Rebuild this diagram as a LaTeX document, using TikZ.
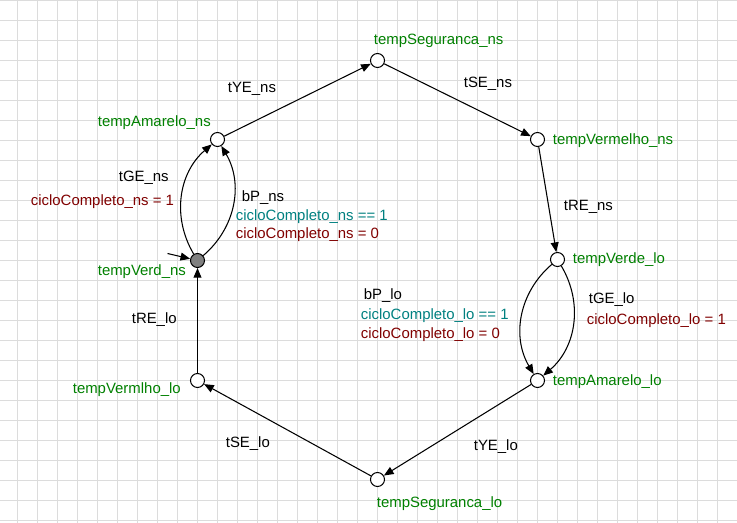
\documentclass[tikz,border=0pt]{standalone}
\usepackage{fontspec}
\setmainfont{Liberation Sans}
\usetikzlibrary{arrows.meta}

\definecolor{locgreen}{RGB}{0,128,0}
\definecolor{guardteal}{RGB}{0,128,128}
\definecolor{updred}{RGB}{128,0,0}
\definecolor{gridgray}{RGB}{220,220,220}

\tikzset{
	state/.style={circle, draw, fill=white, minimum size=0.28cm, inner sep=0pt, line width=0.6pt},
	initstate/.style={state, fill=gray},
	trans/.style={line width=0.6pt, -{Triangle[length=5.5pt,width=4.5pt]}},
	txt/.style={anchor=west, inner sep=0pt, font=\fontsize{8.5pt}{10pt}\selectfont},
	loc/.style={txt, text=locgreen},
	guard/.style={txt, text=guardteal},
	upd/.style={txt, text=updred},
	gridline/.style={draw=gridgray, line width=0.55pt}
}

\begin{document}
\begin{tikzpicture}[x=0.02cm, y=-0.02cm]
			\useasboundingbox (-0.5, -0.5) rectangle (736.5, 522.5);
			% background grid
			\foreach \x in {17, 37, ..., 737} \draw[gridline] (\x, -0.5) -- (\x, 522.5);
			\foreach \y in {0, 20, ..., 520} \draw[gridline] (-0.5, \y) -- (736.5, \y);

			% locations
			\node[state] (segns) at (377, 60) {};
			\node[state] (vermns) at (537, 139) {};
			\node[state] (verdelo) at (557, 259) {};
			\node[state] (amarlo) at (537, 380) {};
			\node[state] (seglo) at (377, 479) {};
			\node[state] (vermlo) at (197, 380) {};
			\node[initstate] (verdns) at (197, 260) {};
			\node[state] (amarns) at (217, 139) {};
			\coordinate (start) at (167, 253);

			\node[loc] (segnslbl) at (373, 40) {tempSeguranca\_ns};
			\node[loc] (vermnslbl) at (552, 140) {tempVermelho\_ns};
			\node[loc] (verdelolbl) at (572, 259) {tempVerde\_lo};
			\node[loc] (amarlolbl) at (552, 381) {tempAmarelo\_lo};
			\node[loc] (seglolbl) at (376, 503) {tempSeguranca\_lo};
			\node[loc] (vermlolbl) at (72, 389) {tempVermlho\_lo};
			\node[loc] (verdnslbl) at (97, 271) {tempVerd\_ns};
			\node[loc] (amarnslbl) at (97, 122) {tempAmarelo\_ns};

			% transitions
			\draw[trans] (start) -- (verdns);
			\draw[trans] (amarns) -- (segns);
			\draw[trans] (segns) -- (vermns);
			\draw[trans] (vermns) -- (verdelo);
			\draw[trans] (verdelo) to[bend left=40] (amarlo);
			\draw[trans] (verdelo) to[bend right=40] (amarlo);
			\draw[trans] (amarlo) -- (seglo);
			\draw[trans] (seglo) -- (vermlo);
			\draw[trans] (vermlo) -- (verdns);
			\draw[trans] (verdns) to[bend right=40] (amarns);
			\draw[trans] (verdns) to[bend left=40] (amarns);

			\node[txt] (tyens) at (227, 88) {tYE\_ns};
			\node[txt] (tsens) at (463, 83) {tSE\_ns};
			\node[txt] (tgens) at (118, 177) {tGE\_ns};
			\node[upd] (tgensupd) at (30, 201) {cicloCompleto\_ns = 1};
			\node[txt] (bpns) at (241, 197) {bP\_ns};
			\node[guard] (bpnsguard) at (235, 216) {cicloCompleto\_ns == 1};
			\node[upd] (bpnsupd) at (235, 234) {cicloCompleto\_ns = 0};
			\node[txt] (trens) at (563, 206) {tRE\_ns};
			\node[txt] (bplo) at (363, 295) {bP\_lo};
			\node[guard] (bploguard) at (360, 315) {cicloCompleto\_lo == 1};
			\node[upd] (bploupd) at (360, 334) {cicloCompleto\_lo = 0};
			\node[txt] (tgelo) at (588, 299) {tGE\_lo};
			\node[upd] (tgeloupd) at (586, 320) {cicloCompleto\_lo = 1};
			\node[txt] (trelo) at (131, 319) {tRE\_lo};
			\node[txt] (tselo) at (225, 443) {tSE\_lo};
			\node[txt] (tyelo) at (473, 446) {tYE\_lo};
		\end{tikzpicture}
\end{document}
